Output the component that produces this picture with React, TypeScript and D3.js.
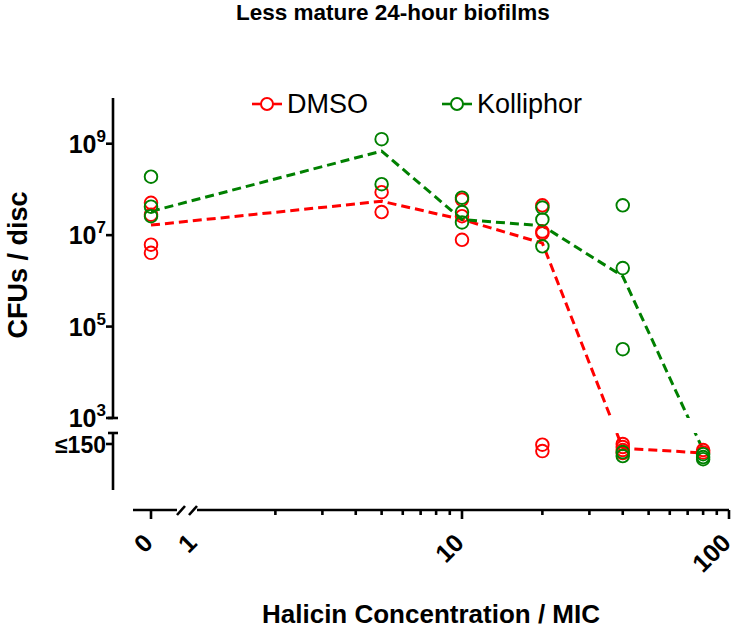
import React from "react";
import * as d3 from "d3";

// ---- data ----
const concentrations = [0, 5, 10, 20, 40, 80];
const seriesNames = ["DMSO", "Kolliphor"];
const seriesColors = ["#ff0000", "#008000"];

// individual replicate values (CFUs / disc); values <= 150 sit on the lower broken segment
const dmsoPoints: number[][] = [
  [5.1e7, 2.8e7, 6.2e6, 4.1e6],
  [8.7e7, 3.2e7],
  [6.0e7, 2.6e7, 7.9e6],
  [4.5e7, 1.2e7, 1.1e7, 145, 105],
  [150, 129, 111, 95],
  [111, 98],
];
const kolliphorPoints: number[][] = [
  [1.9e8, 4.2e7, 2.6e7],
  [1.26e9, 1.3e8],
  [6.6e7, 3.2e7, 1.9e7],
  [4.0e7, 2.2e7, 5.7e6],
  [4.5e7, 1.9e6, 3.2e4, 100, 82],
  [90, 78, 70],
];
// connecting line (summary) values
const dmsoLine = [1.66e7, 5.5e7, 2.2e7, 6.7e6, 121, 96];
const kolliphorLine = [3.3e7, 6.9e8, 2.2e7, 1.6e7, 1.26e6, 111];

const yMajorTicks = [1e3, 1e5, 1e7, 1e9];
const xMajorTicks = [1, 10, 100];
const xTickLabels = ["0", "1", "10", "100"];

const FONT = "'Liberation Sans', Arial, Helvetica, sans-serif";

export default function App() {
  const W = 736, H = 629;
  const axisX = 113;
  const upperTop = 98, upperBottom = 418;
  const lowerTop = 433, lowerBottom = 490;
  const axisY = 510;
  const xStart = 133, xEnd = 729;
  const zeroX = 151;

  const yUp = d3.scaleLog().domain([1e3, 1e10]).range([upperBottom, upperTop]);
  const yLow = d3.scaleLog().domain([15, 260]).range([lowerBottom, lowerTop]);
  const xLog = d3.scaleLog().domain([1, 100]).range([195, xEnd]);

  const xPos = (c: number) => (c === 0 ? zeroX : xLog(c));
  const yPos = (v: number) => (v <= 150 ? yLow(v) : yUp(v));

  const series = [
    { name: seriesNames[0], color: seriesColors[0], pts: dmsoPoints, line: dmsoLine },
    { name: seriesNames[1], color: seriesColors[1], pts: kolliphorPoints, line: kolliphorLine },
  ];

  const lineGen = d3
    .line<number>()
    .x((_, i) => xPos(concentrations[i]))
    .y((v) => yPos(v));

  const minorTicks: number[] = [];
  for (const dec of [1, 10]) for (let k = 2; k <= 9; k++) minorTicks.push(dec * k);

  const axisStroke = 2.6;
  const tickLabelSize = 25;

  return (
    <svg
      width={W}
      height={H}
      style={{ position: "absolute", left: 0, top: 0, background: "#fff" }}
      fontFamily={FONT}
    >
      <defs>
        <clipPath id="gapClip">
          <rect x={0} y={0} width={W} height={upperBottom} />
          <rect x={0} y={lowerTop} width={W} height={H - lowerTop} />
        </clipPath>
      </defs>

      {/* title */}
      <text x={236} y={20} textAnchor="start" fontWeight="bold" fontSize={22.5}>
        Less mature 24-hour biofilms
      </text>

      {/* legend */}
      {series.map((s, i) => {
        const cx = i === 0 ? 267 : 457;
        const cy = 104;
        return (
          <g key={s.name}>
            <line x1={cx - 15} x2={cx - 6} y1={cy} y2={cy} stroke={s.color} strokeWidth={2.6} />
            <line x1={cx + 6} x2={cx + 15} y1={cy} y2={cy} stroke={s.color} strokeWidth={2.6} />
            <circle cx={cx} cy={cy} r={6} fill="none" stroke={s.color} strokeWidth={2} />
            <text x={cx + 20} y={cy + 9} fontSize={27}>
              {s.name}
            </text>
          </g>
        );
      })}

      {/* y axis upper segment */}
      <line x1={axisX} x2={axisX} y1={upperTop} y2={upperBottom} stroke="#000" strokeWidth={axisStroke} />
      <line x1={axisX - 5} x2={axisX + 5} y1={upperBottom} y2={upperBottom} stroke="#000" strokeWidth={axisStroke} />
      {yMajorTicks.map((t) => (
        <g key={t}>
          <line x1={axisX - 7} x2={axisX} y1={yUp(t)} y2={yUp(t)} stroke="#000" strokeWidth={axisStroke} />
          <text x={106} y={yUp(t) + 9} textAnchor="end" fontWeight="bold" fontSize={tickLabelSize}>
            <tspan>10</tspan>
            <tspan dy={-11} fontSize={17}>
              {Math.round(Math.log10(t))}
            </tspan>
          </text>
        </g>
      ))}
      {/* y axis lower segment */}
      <line x1={axisX} x2={axisX} y1={lowerTop} y2={lowerBottom} stroke="#000" strokeWidth={axisStroke} />
      <line x1={axisX - 5} x2={axisX + 5} y1={lowerTop} y2={lowerTop} stroke="#000" strokeWidth={axisStroke} />
      <line x1={axisX - 7} x2={axisX} y1={yLow(150)} y2={yLow(150)} stroke="#000" strokeWidth={axisStroke} />
      <text x={106} y={yLow(150) + 9} textAnchor="end" fontWeight="bold" fontSize={23}>
        ≤150
      </text>

      {/* y axis title */}
      <text
        transform={`translate(27, 265) rotate(-90)`}
        textAnchor="middle"
        fontWeight="bold"
        fontSize={27}
      >
        CFUs / disc
      </text>

      {/* x axis */}
      <line x1={xStart} x2={177} y1={axisY} y2={axisY} stroke="#000" strokeWidth={axisStroke} />
      <line x1={197} x2={xEnd} y1={axisY} y2={axisY} stroke="#000" strokeWidth={axisStroke} />
      <line x1={177} x2={185} y1={515} y2={506} stroke="#000" strokeWidth={axisStroke} />
      <line x1={189} x2={197} y1={515} y2={506} stroke="#000" strokeWidth={axisStroke} />
      <line x1={zeroX} x2={zeroX} y1={axisY} y2={axisY + 9} stroke="#000" strokeWidth={axisStroke} />
      {xMajorTicks
        .filter((t) => t !== 1)
        .map((t) => (
          <line key={t} x1={xLog(t)} x2={xLog(t)} y1={axisY} y2={axisY + 9} stroke="#000" strokeWidth={axisStroke} />
        ))}
      {minorTicks.map((t) => (
        <line key={t} x1={xLog(t)} x2={xLog(t)} y1={axisY} y2={axisY + 5} stroke="#000" strokeWidth={axisStroke} />
      ))}
      {xTickLabels.map((lab) => {
        const x = lab === "0" ? zeroX : xLog(+lab);
        return (
          <text
            key={lab}
            transform={`translate(${x - 3}, 538) rotate(-45)`}
            textAnchor="end"
            dominantBaseline="central"
            fontWeight="bold"
            fontSize={tickLabelSize}
          >
            {lab}
          </text>
        );
      })}

      {/* x axis title */}
      <text x={431} y={623} textAnchor="middle" fontWeight="bold" fontSize={26}>
        Halicin Concentration / MIC
      </text>

      {/* connecting dashed lines */}
      <g clipPath="url(#gapClip)">
        {series.map((s) => (
          <path
            key={s.name}
            d={lineGen(s.line) || ""}
            fill="none"
            stroke={s.color}
            strokeWidth={3}
            strokeDasharray="9,5"
          />
        ))}
      </g>

      {/* points */}
      {series.map((s) => (
        <g key={s.name}>
          {s.pts.map((vals, i) =>
            vals.map((v, j) => (
              <circle
                key={`${i}-${j}`}
                cx={xPos(concentrations[i])}
                cy={yPos(v)}
                r={6.3}
                fill="none"
                stroke={s.color}
                strokeWidth={1.9}
              />
            ))
          )}
        </g>
      ))}
    </svg>
  );
}
